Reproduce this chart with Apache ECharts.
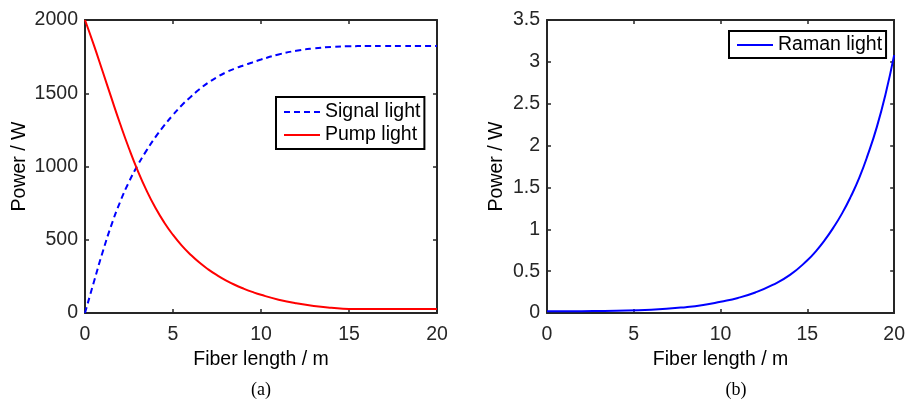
<!DOCTYPE html>
<html>
<head>
<meta charset="utf-8">
<script src="https://cdn.jsdelivr.net/npm/echarts@6/dist/echarts.min.js"></script>
<style>
html,body{margin:0;padding:0;background:#fff;}
#chart{width:908px;height:402px;}
</style>
</head>
<body>
<div id="chart"></div>
<script>
// ---- data ----
const fiberLength = [0,0.5,1,1.5,2,2.5,3,3.5,4,4.5,5,5.5,6,6.5,7,7.5,8,8.5,9,9.5,10,11,12,13,14,15,16,17,18,19,20];
const signalLight = [0,210,415,600,760,895,1010,1110,1200,1280,1352,1418,1475,1527,1572,1610,1642,1668,1690,1710,1730,1765,1790,1806,1816,1821,1822,1822,1822,1822,1822];
const pumpLight   = [2000,1830,1650,1468,1290,1123,970,835,718,618,533,460,398,344,298,258,223,193,167,144,124,91,66,48,36,28,27,27,27,27,27];
const ramanLength = [0,2,4,6,8,9,10,11,12,13,14,15,15.5,16,16.5,17,17.5,18,18.5,19,19.5,20];
const ramanLight  = [0.02,0.022,0.027,0.04,0.07,0.095,0.135,0.18,0.245,0.335,0.455,0.63,0.74,0.87,1.02,1.19,1.39,1.62,1.9,2.22,2.61,3.08];
const xTicksA = [0,5,10,15,20];
const yTicksA = [0,500,1000,1500,2000];
const yTicksB = [0,0.5,1,1.5,2,2.5,3,3.5];

const pairs = (xs, ys) => xs.map((x, i) => [x, ys[i]]);

const axisColor = '#262626';
const font = 'Liberation Sans, Arial, Helvetica, sans-serif';
const FS = 19.5;
const plain = v => String(v);

function mainX(gi) {
  return {
    type: 'value', gridIndex: gi, min: 0, max: xTicksA[xTicksA.length-1], interval: 5, position: 'bottom',
    name: 'Fiber length / m', nameLocation: 'middle', nameGap: 35,
    nameTextStyle: {color: '#000', fontSize: FS, fontFamily: font},
    axisLine: {show: true, onZero: false, lineStyle: {color: axisColor, width: 2}},
    axisTick: {show: true, inside: true, length: 4, lineStyle: {color: axisColor, width: 1.5}},
    axisLabel: {color: '#262626', fontSize: FS, fontFamily: font, margin: 12, formatter: plain},
    splitLine: {show: false}
  };
}
function boxX(gi) {
  return {
    type: 'value', gridIndex: gi, min: 0, max: 20, interval: 5, position: 'top',
    axisLine: {show: true, onZero: false, lineStyle: {color: axisColor, width: 2}},
    axisTick: {show: true, inside: true, length: 4, lineStyle: {color: axisColor, width: 1.5}},
    axisLabel: {show: false}, splitLine: {show: false}
  };
}
function mainY(gi, max, interval, gap) {
  return {
    type: 'value', gridIndex: gi, min: 0, max: max, interval: interval, position: 'left',
    name: 'Power / W', nameLocation: 'middle', nameGap: gap,
    nameTextStyle: {color: '#000', fontSize: FS, fontFamily: font},
    axisLine: {show: true, onZero: false, lineStyle: {color: axisColor, width: 2}},
    axisTick: {show: true, inside: true, length: 4, lineStyle: {color: axisColor, width: 1.5}},
    axisLabel: {color: '#262626', fontSize: FS, fontFamily: font, margin: 7, formatter: plain},
    splitLine: {show: false}
  };
}
function boxY(gi, max, interval) {
  return {
    type: 'value', gridIndex: gi, min: 0, max: max, interval: interval, position: 'right',
    axisLine: {show: true, onZero: false, lineStyle: {color: axisColor, width: 2}},
    axisTick: {show: true, inside: true, length: 4, lineStyle: {color: axisColor, width: 1.5}},
    axisLabel: {show: false}, splitLine: {show: false}
  };
}
function legendBox(names, left, top, padding, gap) {
  return {
    data: names, orient: 'vertical', left: left, top: top,
    backgroundColor: '#fff', borderColor: '#000', borderWidth: 2, borderRadius: 0,
    padding: padding, itemGap: gap, itemWidth: 36, itemHeight: 14,
    itemStyle: {opacity: 0},
    textStyle: {color: '#000', fontSize: FS, fontFamily: font}
  };
}

const chart = echarts.init(document.getElementById('chart'), null, {renderer: 'canvas'});
chart.setOption({
  backgroundColor: '#ffffff',
  animation: false,
  grid: [
    {left: 85, right: 471, top: 20, bottom: 89},
    {left: 547, right: 11, top: 20, bottom: 89}
  ],
  xAxis: [mainX(0), boxX(0), mainX(1), boxX(1)],
  yAxis: [mainY(0, yTicksA[yTicksA.length-1], 500, 55), boxY(0, 2000, 500),
          mainY(1, yTicksB[yTicksB.length-1], 0.5, 40), boxY(1, 3.5, 0.5)],
  legend: [
    legendBox(['Signal light', 'Pump light'], 276, 97, [5, 4, 4, 7], 3),
    legendBox(['Raman light'], 729, 31, [4, 4, 3, 7], 3)
  ],
  series: [
    {
      name: 'Signal light', type: 'line', xAxisIndex: 0, yAxisIndex: 0,
      data: pairs(fiberLength, signalLight), smooth: true, symbol: 'none',
      lineStyle: {color: '#0000ff', width: 2, type: [6, 4]}, itemStyle: {color: '#0000ff'}
    },
    {
      name: 'Pump light', type: 'line', xAxisIndex: 0, yAxisIndex: 0,
      data: pairs(fiberLength, pumpLight), smooth: true, symbol: 'none',
      lineStyle: {color: '#ff0000', width: 2}, itemStyle: {color: '#ff0000'}
    },
    {
      name: 'Raman light', type: 'line', xAxisIndex: 2, yAxisIndex: 2,
      data: pairs(ramanLength, ramanLight), smooth: true, symbol: 'none',
      lineStyle: {color: '#0000ff', width: 2}, itemStyle: {color: '#0000ff'}
    }
  ],
  graphic: [
    {type: 'text', x: 261, y: 390, style: {text: '(a)', fill: '#000', font: '18px "Liberation Serif", "Times New Roman", serif', textAlign: 'center', textVerticalAlign: 'middle'}},
    {type: 'text', x: 736, y: 390, style: {text: '(b)', fill: '#000', font: '18px "Liberation Serif", "Times New Roman", serif', textAlign: 'center', textVerticalAlign: 'middle'}}
  ]
});
</script>
</body>
</html>
